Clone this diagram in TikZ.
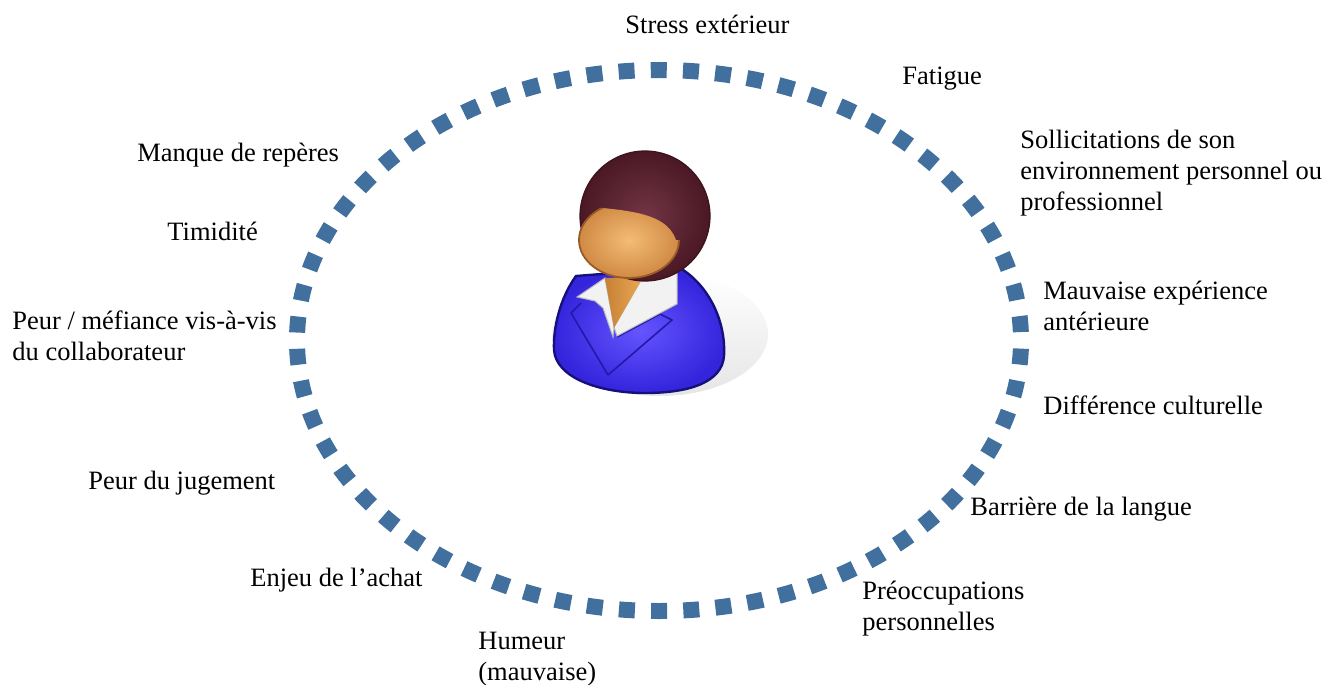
\documentclass[tikz,border=0pt]{standalone}
\usepackage{fontspec}
\setmainfont{Liberation Serif}
\definecolor{ringblue}{HTML}{41709E}
\definecolor{bodyhi}{HTML}{6455FF}
\definecolor{bodylo}{HTML}{3424DC}
\definecolor{bodyline}{HTML}{16107A}
\definecolor{hairhi}{HTML}{733545}
\definecolor{hairlo}{HTML}{4A1824}
\definecolor{facehi}{HTML}{F4BC74}
\definecolor{facelo}{HTML}{D08A45}
\definecolor{faceline}{HTML}{9A5A25}
\definecolor{neckhi}{HTML}{EAAA55}
\definecolor{necklo}{HTML}{C88035}
\definecolor{collar}{HTML}{F2F2F2}
\begin{document}
\begin{tikzpicture}[x=0.5pt,y=-0.5pt,
  lbl/.style={anchor=base west, align=left, inner sep=0pt,
    font=\fontsize{13.25pt}{15.5pt}\selectfont},
  ring/.style={draw=ringblue, line width=8pt, line cap=butt,
    dash pattern=on 8pt off 8.108pt, dash phase=12.05pt},
  lapel/.style={draw=bodyline!55!bodylo, line width=0.8pt, line join=round}]
\useasboundingbox (0,0) rectangle (1325,684);

% dotted ring
\draw[ring] (659,340.5) ellipse [x radius=362, y radius=270.5];

% person icon: shadow
\shade[top color=white, bottom color=gray!20]
  (660,334) ellipse [x radius=108, y radius=62];

% body
\shadedraw[draw=bodyline, line width=1.2pt, inner color=bodyhi, outer color=bodylo]
  (576,276) .. controls (560,298) and (553,328) .. (554,350)
  .. controls (556,378) and (600,393) .. (645,393)
  .. controls (690,393) and (722,382) .. (724,356)
  .. controls (726,320) and (708,285) .. (680,268) -- cycle;

% lapels
\draw[lapel] (581,303) -- (571,313) -- (608,375);
\draw[lapel] (617,337) -- (660,314) -- (672,320) -- (608,375);

% collar
\filldraw[fill=collar, draw=gray!55, line width=0.5pt]
  (577,297) -- (605,278) -- (614,327) -- (613,337) -- (603,308) -- (595,301) -- cycle;
\filldraw[fill=collar, draw=gray!55, line width=0.5pt]
  (643,277) -- (677,270) -- (677,304) -- (617,336) -- (614,327) -- cycle;

% neck
\shade[left color=necklo, right color=neckhi]
  (605,278) -- (643,277) -- (614,328) -- cycle;

% hair
\shadedraw[draw=hairlo!80!black, line width=0.6pt, inner color=hairhi, outer color=hairlo]
  (645,216) circle [radius=65];

% face
\begin{scope}
  \clip (570,205) .. controls (620,210) and (666,210) .. (676,240)
    -- (690,240) -- (690,300) -- (560,300) -- cycle;
  \shadedraw[draw=faceline, line width=0.9pt, inner color=facehi, outer color=facelo]
    (629,240) ellipse [x radius=50, y radius=38];
\end{scope}

% labels
\node[lbl] (stress) at (625,34) {Stress extérieur};
\node[lbl] (fatigue) at (902,85) {Fatigue};
\node[lbl] (sollic) at (1020,210) {Sollicitations de son\\environnement personnel ou\\professionnel};
\node[lbl] (mauvexp) at (1043,330) {Mauvaise expérience\\antérieure};
\node[lbl] (culture) at (1043,414) {Différence culturelle};
\node[lbl] (langue) at (970,515) {Barrière de la langue};
\node[lbl] (preocc) at (862,630) {Préoccupations\\personnelles};
\node[lbl] (humeur) at (478,680) {Humeur\\(mauvaise)};
\node[lbl] (enjeu) at (250,586) {Enjeu de l’achat};
\node[lbl] (jugement) at (88,489) {Peur du jugement};
\node[lbl] (mefiance) at (12,360) {Peur / méfiance vis-à-vis\\du collaborateur};
\node[lbl] (timidite) at (167,240) {Timidité};
\node[lbl] (reperes) at (137,162) {Manque de repères};
\end{tikzpicture}
\end{document}
